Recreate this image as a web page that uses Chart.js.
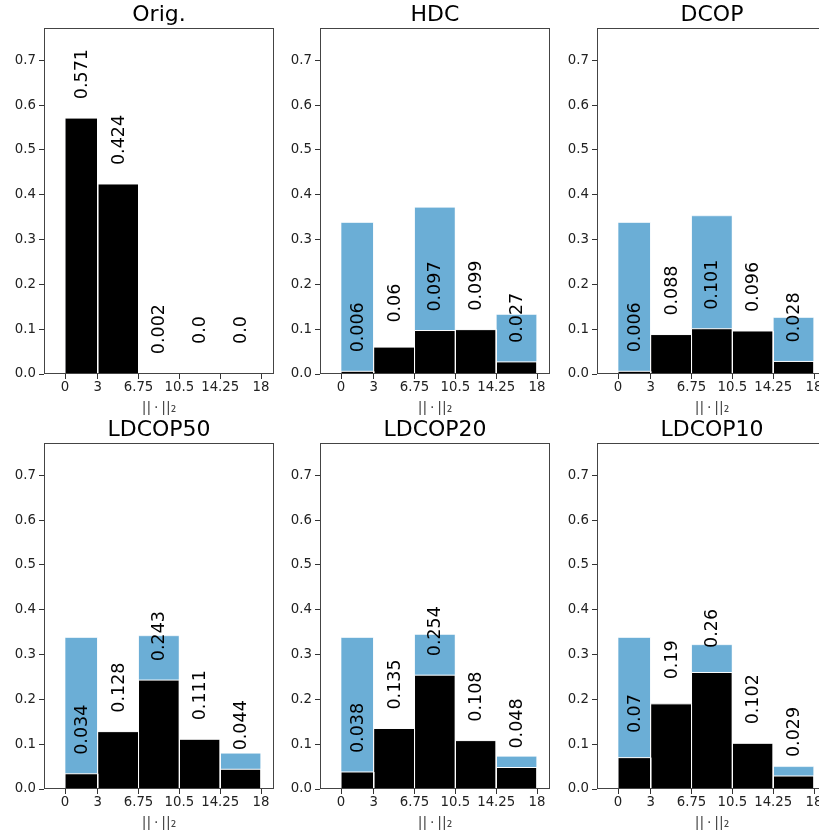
<!DOCTYPE html>
<html>
<head>
<meta charset="utf-8">
<script src="https://cdn.jsdelivr.net/npm/chart.js@4.4.0/dist/chart.umd.min.js"></script>
<style>
  html, body { margin: 0; padding: 0; background: #fff; }
  body { width: 819px; height: 836px; position: relative; overflow: hidden; }
  canvas { position: absolute; }
</style>
</head>
<body>
<canvas id="c0" width="274" height="415" style="left:0px;top:0px"></canvas>
<canvas id="c1" width="274" height="415" style="left:276px;top:0px"></canvas>
<canvas id="c2" width="274" height="415" style="left:553px;top:0px"></canvas>
<canvas id="c3" width="274" height="415" style="left:0px;top:415px"></canvas>
<canvas id="c4" width="274" height="415" style="left:276px;top:415px"></canvas>
<canvas id="c5" width="274" height="415" style="left:553px;top:415px"></canvas>
<script>
// bins and ticks
let binEdges = [0, 3, 6.75, 10.5, 14.25, 18];
let xTickLabels = ["0", "3", "6.75", "10.5", "14.25", "18"];
let yTicks = [0, 0.1, 0.2, 0.3, 0.4, 0.5, 0.6, 0.7];
let xMin = -1.93, xMax = 19.19;
let yMax = 0.772;

let titles = ["Orig.", "HDC", "DCOP", "LDCOP50", "LDCOP20", "LDCOP10"];

// black bars (labelled values)
let origBlack    = [0.571, 0.424, 0.002, 0.0, 0.0];
let hdcBlack     = [0.006, 0.06, 0.097, 0.099, 0.027];
let dcopBlack    = [0.006, 0.088, 0.101, 0.096, 0.028];
let ldcop50Black = [0.034, 0.128, 0.243, 0.111, 0.044];
let ldcop20Black = [0.038, 0.135, 0.254, 0.108, 0.048];
let ldcop10Black = [0.07, 0.19, 0.26, 0.102, 0.029];

// blue bars behind
let origBlue    = [0.571, 0.424, 0.002, 0, 0];
let hdcBlue     = [0.338, 0, 0.372, 0, 0.133];
let dcopBlue    = [0.338, 0, 0.353, 0, 0.126];
let ldcop50Blue = [0.338, 0, 0.342, 0, 0.080];
let ldcop20Blue = [0.338, 0, 0.345, 0, 0.073];
let ldcop10Blue = [0.338, 0, 0.322, 0, 0.050];

let blackSets = [origBlack, hdcBlack, dcopBlack, ldcop50Black, ldcop20Black, ldcop10Black];
let blueSets = [origBlue, hdcBlue, dcopBlue, ldcop50Blue, ldcop20Blue, ldcop10Blue];

Chart.defaults.font.family = "'DejaVu Sans', sans-serif";
Chart.defaults.color = "#222";

function barDataset(i, v, color, edge, order) {
    return {
        data: [
            {x: binEdges[i], y: 0},
            {x: binEdges[i], y: v},
            {x: binEdges[i + 1], y: v},
            {x: binEdges[i + 1], y: 0}
        ],
        backgroundColor: color,
        borderColor: edge,
        borderWidth: 1,
        fill: "origin",
        pointRadius: 0,
        pointHoverRadius: 0,
        tension: 0,
        order: order
    };
}

function fmt(v) {
    return Number.isInteger(v) ? v.toFixed(1) : String(v);
}

// frame around the axes
let framePlugin = {
    id: "frame",
    afterDatasetsDraw(chart) {
        let a = chart.chartArea;
        let ctx = chart.ctx;
        ctx.save();
        ctx.strokeStyle = "#444";
        ctx.lineWidth = 1;
        ctx.strokeRect(Math.round(a.left) + 0.5, Math.round(a.top) + 0.5,
            Math.round(a.right - a.left) - 1, Math.round(a.bottom - a.top) - 1);
        ctx.restore();
    }
};

// rotated value labels above the black bars
let labelPlugin = {
    id: "valueLabels",
    afterDatasetsDraw(chart, args, opts) {
        let ctx = chart.ctx;
        let xs = chart.scales.x, ys = chart.scales.y;
        ctx.save();
        ctx.font = "17.5px 'DejaVu Sans'";
        ctx.fillStyle = "#000";
        ctx.textAlign = "center";
        ctx.textBaseline = "middle";
        opts.values.forEach((v, i) => {
            let cx = xs.getPixelForValue((binEdges[i] + binEdges[i + 1]) / 2) + 1;
            let cy = ys.getPixelForValue(v) - 44;
            ctx.save();
            ctx.translate(cx, cy);
            ctx.rotate(-Math.PI / 2);
            ctx.fillText(fmt(v), 0, 0);
            ctx.restore();
        });
        ctx.restore();
    }
};

for (let p = 0; p < 6; p++) {
    let datasets = [];
    blackSets[p].forEach((v, i) => {
        if (v > 0) datasets.push(barDataset(i, v, "#000000", "#ffffff", 0));
    });
    blueSets[p].forEach((v, i) => {
        if (v > 0) datasets.push(barDataset(i, v, "#6baed6", "rgba(255,255,255,0.6)", 1));
    });

    new Chart(document.getElementById("c" + p).getContext("2d"), {
        type: "line",
        data: {datasets: datasets},
        options: {
            responsive: false,
            animation: false,
            events: [],
            layout: {padding: 0},
            plugins: {
                legend: {display: false},
                tooltip: {enabled: false},
                title: {
                    display: true,
                    text: titles[p],
                    fullSize: false,
                    color: "#000",
                    font: {size: 22, weight: "normal", lineHeight: 1},
                    padding: {top: 4, bottom: 2}
                },
                valueLabels: {values: blackSets[p]}
            },
            scales: {
                x: {
                    type: "linear",
                    min: xMin,
                    max: xMax,
                    afterBuildTicks: s => { s.ticks = binEdges.map(v => ({value: v})); },
                    afterFit: s => { s.height = 41; },
                    ticks: {
                        autoSkip: false,
                        maxRotation: 0,
                        padding: 1,
                        font: {size: 13.3},
                        callback: (v, i) => xTickLabels[i]
                    },
                    grid: {display: true, drawOnChartArea: false, drawTicks: true, tickLength: 5, color: "#333"},
                    border: {display: false},
                    title: {
                        display: true,
                        text: "||\u2009·\u2009||₂",
                        color: "#444",
                        font: {size: 14, lineHeight: 1},
                        padding: {top: 0, bottom: 0}
                    }
                },
                y: {
                    type: "linear",
                    min: 0,
                    max: yMax,
                    afterBuildTicks: s => { s.ticks = yTicks.map(v => ({value: v})); },
                    afterFit: s => { s.width = 44; },
                    ticks: {
                        padding: 3,
                        font: {size: 13.3},
                        callback: v => v.toFixed(1)
                    },
                    grid: {display: true, drawOnChartArea: false, drawTicks: true, tickLength: 5, color: "#333"},
                    border: {display: false}
                }
            }
        },
        plugins: [framePlugin, labelPlugin]
    });
}
</script>
</body>
</html>
